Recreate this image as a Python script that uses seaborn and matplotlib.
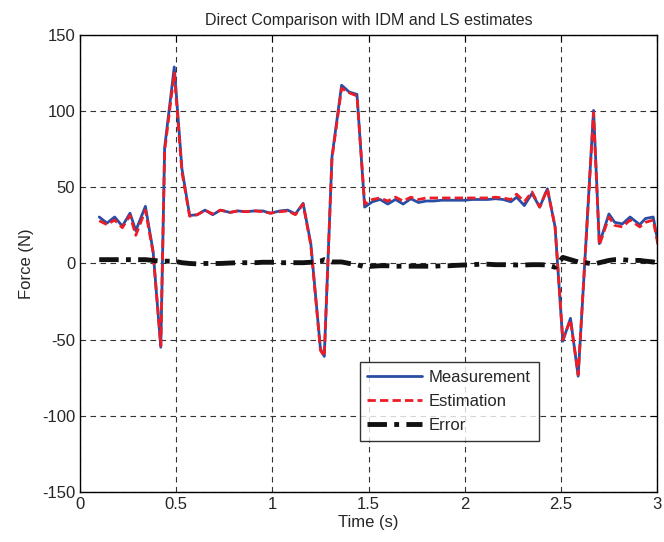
import numpy as np
import pandas as pd
import matplotlib
matplotlib.use('Agg')
import matplotlib.pyplot as plt
import seaborn as sns

# time samples (s)
time_s = [0.10, 0.14, 0.18, 0.22, 0.26, 0.29, 0.34, 0.38, 0.42, 0.44, 0.49, 0.53, 0.57,
          0.61, 0.65, 0.69, 0.73, 0.78, 0.82, 0.86, 0.91, 0.95, 0.99, 1.04, 1.08, 1.12, 1.16, 1.20,
          1.25, 1.27, 1.31, 1.36, 1.40, 1.44, 1.48,
          1.52, 1.56, 1.60, 1.64, 1.68, 1.72, 1.76, 1.80, 1.84, 1.88,
          1.92, 1.96, 2.00, 2.04, 2.08, 2.12, 2.16, 2.20, 2.24, 2.27,
          2.31, 2.35, 2.39, 2.43, 2.47, 2.51, 2.55, 2.59, 2.63, 2.67,
          2.70, 2.75, 2.78, 2.82, 2.86, 2.91, 2.94, 2.98, 3.01]

measurement = [30.5, 26.5, 30.5, 24.5, 33, 21.5, 37.5, 8, -55, 76, 129, 62, 31.5,
               32, 35, 32, 35, 33.5, 34.5, 34, 34.5, 34.5, 33, 34.5, 35, 32.5, 39.5, 13,
               -56, -61, 70, 117, 112.5, 111, 37,
               40.5, 42, 39, 42, 39, 42.5, 40, 41, 41, 41.5,
               41.5, 41.5, 41.5, 42, 42, 42, 42.5, 42, 40.5, 43.5,
               38, 46, 37, 49, 24, -51, -36, -74, 13, 100.5,
               13, 32.5, 27, 26, 30.5, 25.5, 29.5, 30.5, 10.5]

estimation = [28, 25.5, 28.5, 23.5, 31.5, 18.5, 35, 7, -54, 74, 125, 60, 31,
              32, 35, 32.5, 35, 33.5, 34.5, 34, 34.5, 34, 33, 34, 34.5, 32, 39, 12,
              -57, -61, 69, 115, 112, 110, 39,
              42, 43, 41, 43.5, 41, 43.5, 42, 43, 43, 43,
              43, 43, 43, 43, 43, 43, 43.5, 43, 42, 45.5,
              40.5, 47, 37, 49, 24, -50, -37, -73, 13, 99,
              12, 30.5, 25, 24, 28.5, 24, 27, 28.5, 9]

error = [2.5, 2.5, 2.5, 2.5, 2.5, 2.5, 2.5, 2.0, 1.5, 1.5, 1.5, 0.5, 0,
         -0.3, 0, 0, 0, 0.3, 0.5, 0.5, 0.5, 0.8, 0.8, 0.5, 0.5, 0.5, 0.5, 0.8,
         1.5, 2.5, 1, 1, 0, -0.8, -2.2,
         -1.8, -1.5, -1.5, -1.8, -1.8, -1.8, -1.8, -1.8, -1.8, -1.5,
         -1.5, -1.2, -1, -0.8, -0.5, -0.5, -0.8, -0.8, -0.8, -1,
         -1, -0.8, -0.8, -1, -2.5, 4, 2.5, 1, 0.5, -0.5,
         0.5, 2, 2.5, 2.5, 2, 2, 1.5, 1, 0]

df = pd.DataFrame({'Time': time_s, 'Measurement': measurement,
                   'Estimation': estimation, 'Error': error})

sns.set_style('white')
plt.rcParams['font.family'] = ['Liberation Sans', 'DejaVu Sans']
plt.rcParams['axes.unicode_minus'] = False

fig = plt.figure(figsize=(6.64, 5.42), dpi=100)
ax = fig.add_axes([0.1205, 0.0923, 0.869, 0.8432])

sns.lineplot(data=df, x='Time', y='Measurement', ax=ax, color='#2a4ea6',
             linewidth=2, label='Measurement')
sns.lineplot(data=df, x='Time', y='Estimation', ax=ax, color='#ee1c25',
             linewidth=2, linestyle=(0, (3, 1.5)), label='Estimation')
sns.lineplot(data=df, x='Time', y='Error', ax=ax, color='#111111',
             linewidth=3.5, linestyle=(0, (4, 1.5, 1, 1.5)), label='Error')

ax.set_xlim(0, 3)
ax.set_ylim(-150, 150)
ax.set_xticks([0, 0.5, 1, 1.5, 2, 2.5, 3])
ax.set_xticklabels(['0', '0.5', '1', '1.5', '2', '2.5', '3'])
ax.set_yticks(np.arange(-150, 151, 50))
ax.grid(True, color='#333333', linestyle=(0, (5, 4)), linewidth=0.8)
ax.tick_params(direction='in', top=True, right=True, labelsize=12,
               length=5, color='black')
for s in ax.spines.values():
    s.set_color('black')
    s.set_linewidth(1.0)

ax.set_title('Direct Comparison with IDM and LS estimates', fontsize=11.5, pad=7)
ax.set_xlabel('Time (s)', fontsize=12, labelpad=2)
ax.set_ylabel('Force (N)', fontsize=12, labelpad=6)

leg = ax.legend(loc='lower left', bbox_to_anchor=(0.485, 0.112), fontsize=12,
                frameon=True, fancybox=False, handlelength=3.3, borderpad=0.45,
                labelspacing=0.55, handletextpad=0.4, borderaxespad=0)
leg.get_frame().set_edgecolor('black')
leg.get_frame().set_linewidth(1.0)

fig.savefig('out.png', dpi=100)
